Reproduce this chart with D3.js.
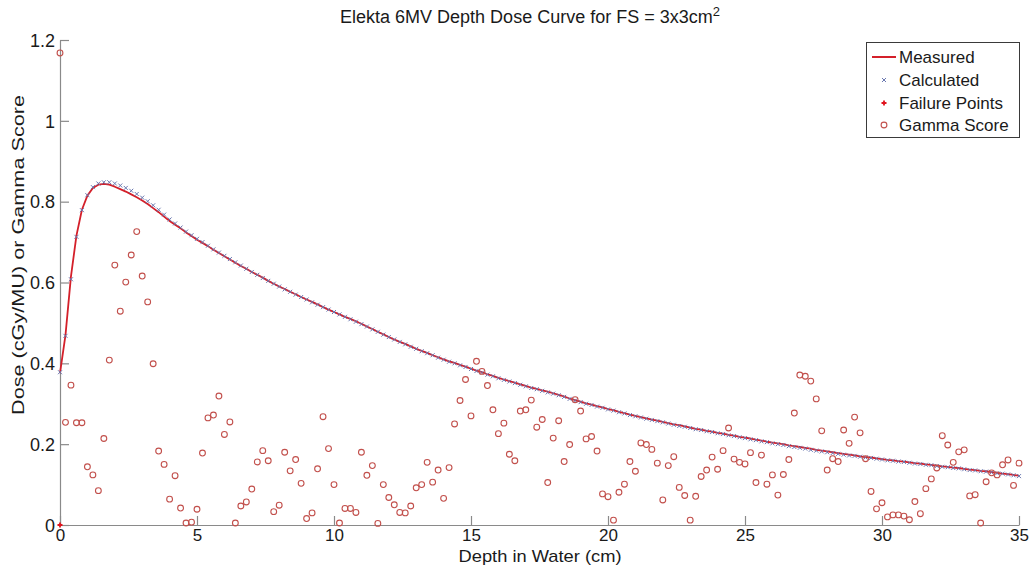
<!DOCTYPE html>
<html>
<head>
<meta charset="utf-8">
<script src="https://cdn.jsdelivr.net/npm/d3@7"></script>
<style>
  html, body { margin: 0; padding: 0; background: #fff; }
  svg { display: block; font-family: "Liberation Sans", Arial, sans-serif; }
</style>
</head>
<body>
<svg id="chart" width="1034" height="568"></svg>
<script>
// ---------- DATA ----------
const depth = [0,0.2,0.4,0.6,0.8,1,1.2,1.4,1.6,1.8,2,2.2,2.4,2.6,2.8,3,3.2,3.4,3.6,3.8,
4,4.2,4.4,4.6,4.8,5,5.2,5.4,5.6,5.8,6,6.2,6.4,6.6,6.8,7,7.2,7.4,7.6,7.8,
8,8.2,8.4,8.6,8.8,9,9.2,9.4,9.6,9.8,10,10.2,10.4,10.6,10.8,11,11.2,11.4,11.6,11.8,
12,12.2,12.4,12.6,12.8,13,13.2,13.4,13.6,13.8,14,14.2,14.4,14.6,14.8,15,15.2,15.4,15.6,15.8,
16,16.2,16.4,16.6,16.8,17,17.2,17.4,17.6,17.8,18,18.2,18.4,18.6,18.8,19,19.2,19.4,19.6,19.8,
20,20.2,20.4,20.6,20.8,21,21.2,21.4,21.6,21.8,22,22.2,22.4,22.6,22.8,23,23.2,23.4,23.6,23.8,
24,24.2,24.4,24.6,24.8,25,25.2,25.4,25.6,25.8,26,26.2,26.4,26.6,26.8,27,27.2,27.4,27.6,27.8,
28,28.2,28.4,28.6,28.8,29,29.2,29.4,29.6,29.8,30,30.2,30.4,30.6,30.8,31,31.2,31.4,31.6,31.8,
32,32.2,32.4,32.6,32.8,33,33.2,33.4,33.6,33.8,34,34.2,34.4,34.6,34.8,35];

const measured = [0.376,0.47,0.615,0.716,0.78,0.815,0.834,0.842,0.844,0.842,
0.837,0.831,0.825,0.818,0.811,0.803,0.794,0.784,0.774,0.763,
0.752,0.743,0.734,0.724,0.715,0.706,0.698,0.690,0.681,0.673,
0.665,0.657,0.649,0.641,0.634,0.626,0.619,0.612,0.604,0.597,
0.590,0.584,0.577,0.571,0.564,0.558,0.552,0.546,0.539,0.533,
0.527,0.521,0.515,0.510,0.504,0.498,0.491,0.485,0.478,0.472,
0.465,0.459,0.453,0.448,0.442,0.436,0.431,0.426,0.420,0.415,
0.410,0.405,0.401,0.396,0.392,0.387,0.382,0.378,0.373,0.369,
0.364,0.360,0.356,0.352,0.348,0.344,0.340,0.337,0.333,0.330,
0.326,0.322,0.318,0.313,0.309,0.305,0.301,0.298,0.294,0.291,
0.287,0.284,0.280,0.277,0.273,0.270,0.267,0.264,0.261,0.258,
0.255,0.252,0.249,0.247,0.244,0.241,0.238,0.236,0.233,0.231,
0.228,0.226,0.223,0.221,0.218,0.216,0.214,0.211,0.209,0.206,
0.204,0.202,0.200,0.197,0.195,0.193,0.191,0.189,0.186,0.184,
0.182,0.180,0.178,0.176,0.174,0.172,0.170,0.168,0.167,0.165,
0.163,0.161,0.160,0.158,0.157,0.155,0.153,0.152,0.150,0.149,
0.147,0.145,0.144,0.142,0.141,0.139,0.137,0.136,0.134,0.133,
0.131,0.129,0.127,0.126,0.124,0.122];

const calculated = [0.378,0.468,0.608,0.713,0.779,0.816,0.836,0.845,0.848,0.848,
0.845,0.840,0.834,0.827,0.819,0.810,0.801,0.791,0.780,0.768,
0.756,0.746,0.736,0.726,0.717,0.708,0.700,0.691,0.682,0.674,
0.666,0.658,0.650,0.642,0.634,0.626,0.619,0.611,0.604,0.597,
0.590,0.583,0.577,0.570,0.564,0.558,0.551,0.545,0.539,0.533,
0.527,0.521,0.515,0.509,0.503,0.497,0.491,0.484,0.478,0.471,
0.465,0.459,0.453,0.447,0.441,0.436,0.430,0.425,0.420,0.414,
0.409,0.404,0.400,0.395,0.391,0.386,0.381,0.377,0.372,0.368,
0.363,0.359,0.355,0.351,0.347,0.343,0.339,0.336,0.332,0.328,
0.325,0.321,0.317,0.312,0.308,0.304,0.300,0.297,0.293,0.290,
0.286,0.283,0.279,0.276,0.272,0.269,0.266,0.263,0.260,0.257,
0.254,0.251,0.248,0.245,0.243,0.240,0.237,0.235,0.232,0.230,
0.227,0.225,0.222,0.220,0.217,0.215,0.212,0.210,0.207,0.205,
0.202,0.200,0.198,0.195,0.193,0.191,0.189,0.186,0.184,0.182,
0.180,0.178,0.176,0.174,0.172,0.171,0.169,0.167,0.166,0.164,
0.162,0.160,0.159,0.157,0.156,0.154,0.152,0.151,0.149,0.148,
0.146,0.144,0.143,0.141,0.140,0.138,0.136,0.135,0.133,0.132,
0.130,0.128,0.127,0.125,0.123,0.121];

const gamma = [1.168,0.254,0.346,0.253,0.253,0.144,0.124,0.085,0.214,0.408,
0.643,0.529,0.601,0.668,0.726,0.616,0.552,0.399,0.183,0.150,
0.064,0.122,0.042,0.005,0.007,0.039,0.178,0.265,0.272,0.319,
0.224,0.255,0.005,0.047,0.057,0.089,0.156,0.184,0.159,0.033,
0.049,0.180,0.134,0.162,0.103,0.016,0.030,0.139,0.268,0.189,
0.100,0.005,0.041,0.041,0.031,0.180,0.123,0.147,0.004,0.100,
0.068,0.050,0.031,0.030,0.047,0.092,0.100,0.155,0.106,0.136,
0.066,0.142,0.250,0.308,0.360,0.270,0.405,0.380,0.345,0.285,
0.226,0.252,0.175,0.159,0.282,0.285,0.309,0.242,0.261,0.105,
0.215,0.258,0.157,0.199,0.310,0.282,0.213,0.219,0.183,0.077,
0.070,0.012,0.081,0.101,0.157,0.133,0.203,0.199,0.187,0.153,
0.062,0.147,0.169,0.093,0.073,0.012,0.071,0.120,0.136,0.168,
0.138,0.184,0.240,0.163,0.155,0.151,0.179,0.105,0.173,0.101,
0.124,0.074,0.125,0.162,0.277,0.371,0.368,0.356,0.312,0.233,
0.136,0.164,0.157,0.235,0.202,0.267,0.228,0.164,0.083,0.040,
0.055,0.020,0.025,0.025,0.022,0.013,0.058,0.028,0.090,0.114,
0.141,0.221,0.198,0.155,0.181,0.186,0.072,0.075,0.005,0.107,
0.129,0.124,0.149,0.161,0.098,0.153];

const failureDepth = [0];
const failureDose = [0];

const xTicks = [0, 5, 10, 15, 20, 25, 30, 35];
const yTicks = [0, 0.2, 0.4, 0.6, 0.8, 1, 1.2];
const yTickLabels = ["0", "0.2", "0.4", "0.6", "0.8", "1", "1.2"];
const legendLabels = ["Measured", "Calculated", "Failure Points", "Gamma Score"];

// ---------- DRAW ----------
const svg = d3.select("#chart");
const x = d3.scaleLinear().domain([0, 35]).range([60, 1019]);
const y = d3.scaleLinear().domain([0, 1.2]).range([525, 40]);

const axisColor = "#8a8a8a";
const textColor = "#1a1a1a";
const redLine = "#d4202a";
const calcColor = "#6a78b0";
const gammaColor = "#c2504c";

// axes
const gx = svg.append("g").attr("transform", "translate(0,525)")
  .call(d3.axisBottom(x).tickValues(xTicks).tickSize(-9).tickSizeOuter(0).tickPadding(2)
    .tickFormat(d3.format("d")));
const gy = svg.append("g").attr("transform", "translate(60,0)")
  .call(d3.axisLeft(y).tickValues(yTicks).tickSize(-9).tickSizeOuter(0).tickPadding(5)
    .tickFormat((d, i) => yTickLabels[i]));
[gx, gy].forEach(g => {
  g.select(".domain").attr("stroke", axisColor).attr("stroke-width", 1.2);
  g.selectAll(".tick line").attr("stroke", axisColor).attr("stroke-width", 1.2);
  g.selectAll(".tick text").attr("fill", textColor)
    .style("font-family", '"Liberation Sans", Arial, sans-serif');
});
gx.selectAll(".tick text").style("font-size", "17px").attr("dy", "0.8em");
gy.selectAll(".tick text").style("font-size", "18px").attr("dy", "0.35em");

// measured line
const line = d3.line().x((d, i) => x(depth[i])).y(d => y(d));
svg.append("path").datum(measured)
  .attr("d", line).attr("fill", "none").attr("stroke", redLine)
  .attr("stroke-width", 1.8).attr("stroke-linejoin", "round");

// calculated markers (x)
const cs = 2;
svg.append("g").selectAll("path").data(calculated).join("path")
  .attr("d", (d, i) => {
    const cx = x(depth[i]), cy = y(d);
    return `M${cx-cs},${cy-cs}L${cx+cs},${cy+cs}M${cx-cs},${cy+cs}L${cx+cs},${cy-cs}`;
  })
  .attr("stroke", calcColor).attr("stroke-width", 1).attr("fill", "none");

// failure points (+)
svg.append("g").selectAll("path").data(failureDose).join("path")
  .attr("d", (d, i) => {
    const cx = x(failureDepth[i]), cy = y(d), s = 2.5;
    return `M${cx-s},${cy}L${cx+s},${cy}M${cx},${cy-s}L${cx},${cy+s}`;
  })
  .attr("stroke", "#e0141e").attr("stroke-width", 1.8);

// gamma circles
svg.append("g").selectAll("circle").data(gamma).join("circle")
  .attr("cx", (d, i) => x(depth[i])).attr("cy", d => y(d)).attr("r", 2.9)
  .attr("fill", "none").attr("stroke", gammaColor).attr("stroke-width", 1.1);

// title
const title = svg.append("text").attr("x", 530).attr("y", 23).attr("text-anchor", "middle")
  .attr("fill", textColor).style("font-size", "18px");
title.append("tspan").text("Elekta 6MV Depth Dose Curve for FS = 3x3cm");
title.append("tspan").attr("dy", -7).style("font-size", "13px").text("2");

// axis labels
svg.append("text").attr("x", 540).attr("y", 562).attr("text-anchor", "middle")
  .attr("fill", textColor).style("font-size", "17px")
  .attr("textLength", 163).attr("lengthAdjust", "spacingAndGlyphs")
  .text("Depth in Water (cm)");
svg.append("text").attr("transform", "translate(24,255) rotate(-90)")
  .attr("text-anchor", "middle").attr("fill", textColor).style("font-size", "17px")
  .attr("textLength", 320).attr("lengthAdjust", "spacingAndGlyphs")
  .text("Dose (cGy/MU) or Gamma Score");

// legend
const lg = svg.append("g");
lg.append("rect").attr("x", 866.5).attr("y", 42.5).attr("width", 153).attr("height", 95)
  .attr("fill", "#fff").attr("stroke", "#3a3a3a").attr("stroke-width", 1);
const rowY = [57, 80, 103, 125];
lg.append("line").attr("x1", 872).attr("x2", 896).attr("y1", rowY[0]).attr("y2", rowY[0])
  .attr("stroke", redLine).attr("stroke-width", 2);
lg.append("path").attr("d", `M${884-cs},${rowY[1]-cs}L${884+cs},${rowY[1]+cs}M${884-cs},${rowY[1]+cs}L${884+cs},${rowY[1]-cs}`)
  .attr("stroke", calcColor).attr("stroke-width", 1);
lg.append("path").attr("d", `M881.5,${rowY[2]}L886.5,${rowY[2]}M884,${rowY[2]-2.5}L884,${rowY[2]+2.5}`)
  .attr("stroke", "#e0141e").attr("stroke-width", 1.8);
lg.append("circle").attr("cx", 884).attr("cy", rowY[3]).attr("r", 2.9)
  .attr("fill", "none").attr("stroke", gammaColor).attr("stroke-width", 1.1);
lg.selectAll("text.lab").data(legendLabels).join("text").attr("class", "lab")
  .attr("x", 899).attr("y", (d, i) => rowY[i]).attr("dy", "0.35em")
  .attr("fill", textColor).style("font-size", "17px").text(d => d);
</script>
</body>
</html>
